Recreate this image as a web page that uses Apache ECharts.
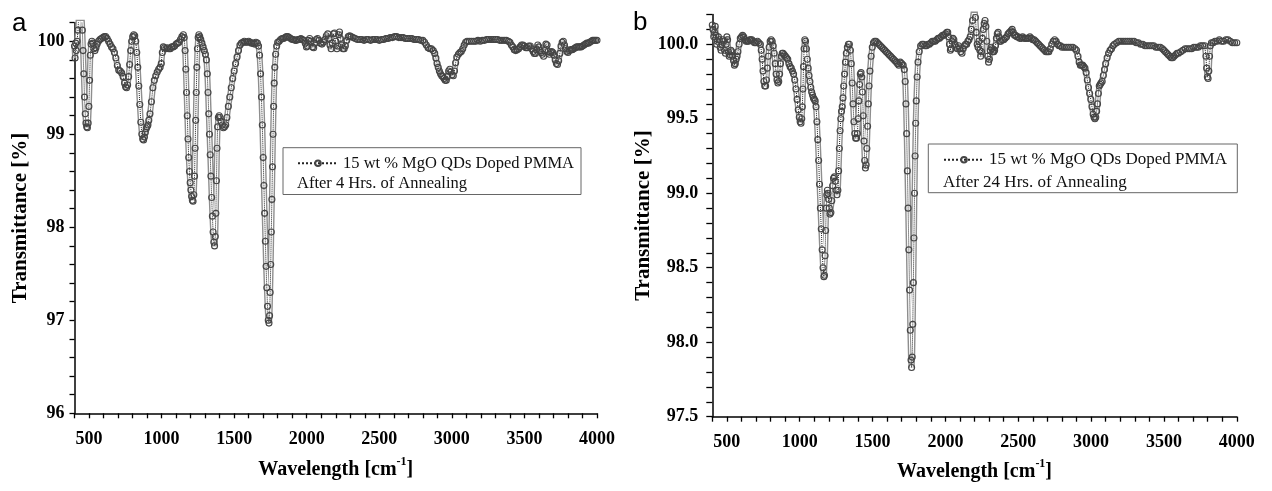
<!DOCTYPE html>
<html><head><meta charset="utf-8">
<script src="https://cdn.jsdelivr.net/npm/echarts@6/dist/echarts.min.js"></script>
<style>html,body{margin:0;padding:0;background:#fff}#c{width:1272px;height:491px}</style>
</head><body><div id="c"></div>
<script>
const seriesName = '15 wt % MgO QDs Doped PMMA';
const noteA = 'After 4 Hrs. of Annealing';
const noteB = 'After 24 Hrs. of Annealing';
const panelLabels = ['a', 'b'];
const xLabelValues = [500, 1000, 1500, 2000, 2500, 3000, 3500, 4000];
const yLabelsA = [96, 97, 98, 99, 100];
const yLabelsB = [97.5, 98.0, 98.5, 99.0, 99.5, 100.0];

// Panel a: [wavenumber, transmittance]
const spectrumA = [
[400,99.95],[404,99.82],[408,99.98],[412,99.90],[418,100.00],[424,100.12],[430,100.28],[436,100.35],[442,100.38],[448,100.30],
[454,100.12],[459,99.90],[464,99.65],[469,99.40],[474,99.22],[479,99.12],[484,99.08],[489,99.07],[494,99.12],[499,99.30],
[504,99.58],[509,99.85],[514,99.97],[520,100.00],[527,99.98],[534,99.92],[541,99.90],[548,99.93],[556,99.97],[565,100.00],
[575,100.02],[585,100.03],[595,100.04],[605,100.05],[615,100.05],[625,100.03],[635,100.00],[645,99.97],[655,99.94],[665,99.92],
[675,99.88],[685,99.82],[695,99.74],[705,99.69],[715,99.68],[725,99.66],[735,99.62],[745,99.55],[752,99.51],[759,99.50],
[766,99.53],[773,99.62],[780,99.75],[787,99.90],[794,100.00],[801,100.05],[808,100.07],[815,100.06],[822,100.00],[829,99.88],
[836,99.72],[843,99.52],[850,99.32],[857,99.13],[864,99.00],[870,98.95],[876,98.94],[882,98.97],[888,99.02],[894,99.06],
[900,99.08],[906,99.10],[912,99.15],[920,99.22],[930,99.35],[940,99.50],[950,99.58],[960,99.63],[970,99.67],[980,99.70],
[990,99.72],[998,99.76],[1005,99.88],[1012,99.94],[1020,99.93],[1030,99.92],[1040,99.93],[1050,99.92],[1060,99.92],[1070,99.94],
[1080,99.94],[1090,99.95],[1100,99.97],[1110,99.98],[1120,99.99],[1130,100.02],[1140,100.05],[1150,100.07],[1156,100.04],[1162,99.90],
[1167,99.70],[1172,99.45],[1177,99.20],[1182,98.95],[1187,98.75],[1192,98.60],[1197,98.48],[1202,98.40],[1207,98.33],[1212,98.29],
[1217,98.28],[1222,98.35],[1227,98.55],[1231,98.85],[1235,99.15],[1239,99.45],[1243,99.72],[1247,99.92],[1252,100.04],[1257,100.07],
[1263,100.05],[1270,100.02],[1278,99.98],[1286,99.94],[1294,99.90],[1302,99.86],[1309,99.80],[1315,99.65],[1320,99.45],[1325,99.22],
[1330,99.00],[1335,98.78],[1340,98.55],[1345,98.32],[1350,98.12],[1355,97.95],[1360,97.84],[1365,97.80],[1370,97.90],[1374,98.15],
[1378,98.50],[1382,98.85],[1386,99.08],[1391,99.18],[1397,99.20],[1403,99.18],[1410,99.14],[1418,99.10],[1426,99.07],[1434,99.08],
[1442,99.10],[1450,99.18],[1460,99.30],[1470,99.40],[1480,99.50],[1490,99.60],[1500,99.68],[1510,99.76],[1520,99.83],[1530,99.90],
[1540,99.96],[1550,99.98],[1560,99.99],[1570,100.00],[1580,99.99],[1590,99.99],[1600,100.00],[1610,99.99],[1620,99.98],[1630,99.98],
[1640,99.97],[1650,99.99],[1660,99.98],[1668,99.95],[1675,99.85],[1682,99.65],[1688,99.40],[1694,99.10],[1700,98.75],[1705,98.45],
[1710,98.15],[1715,97.85],[1720,97.58],[1725,97.35],[1730,97.15],[1735,97.00],[1740,96.97],[1744,97.05],[1748,97.30],[1752,97.60],
[1756,97.95],[1760,98.30],[1764,98.65],[1768,99.00],[1772,99.30],[1776,99.55],[1780,99.72],[1786,99.86],[1793,99.95],[1800,99.99],
[1810,100.00],[1820,100.02],[1830,100.03],[1840,100.03],[1850,100.04],[1860,100.05],[1870,100.05],[1880,100.04],[1890,100.03],[1900,100.02],
[1910,100.02],[1920,100.01],[1930,100.01],[1940,100.02],[1950,100.02],[1960,100.03],[1970,100.02],[1980,100.01],[1990,99.98],[1998,99.94],
[2005,99.95],[2012,100.01],[2020,100.03],[2030,100.00],[2040,99.94],[2048,99.93],[2056,99.98],[2065,100.02],[2075,100.03],[2085,100.01],
[2095,99.98],[2105,99.97],[2115,99.99],[2125,100.02],[2135,100.06],[2145,100.08],[2153,100.03],[2160,99.96],[2168,99.92],[2176,99.98],
[2184,100.08],[2192,100.09],[2200,100.00],[2208,99.92],[2214,99.95],[2220,100.07],[2226,100.10],[2232,100.03],[2240,99.96],[2250,99.92],
[2258,99.92],[2266,99.95],[2276,100.01],[2286,100.05],[2296,100.06],[2306,100.05],[2320,100.04],[2335,100.03],[2350,100.02],[2365,100.02],
[2380,100.02],[2395,100.01],[2410,100.02],[2425,100.02],[2440,100.01],[2455,100.02],[2470,100.02],[2485,100.02],[2500,100.01],[2515,100.02],
[2530,100.02],[2545,100.03],[2560,100.03],[2575,100.04],[2590,100.04],[2605,100.05],[2620,100.05],[2635,100.04],[2650,100.04],[2665,100.04],
[2680,100.03],[2695,100.03],[2710,100.03],[2725,100.03],[2740,100.02],[2755,100.02],[2770,100.02],[2785,100.01],[2800,100.01],[2812,99.99],
[2824,99.96],[2836,99.93],[2848,99.92],[2860,99.92],[2872,99.90],[2882,99.87],[2890,99.82],[2898,99.76],[2906,99.72],[2914,99.68],
[2922,99.65],[2930,99.63],[2938,99.62],[2946,99.60],[2954,99.58],[2962,99.58],[2970,99.62],[2978,99.68],[2986,99.70],[2994,99.67],
[3002,99.64],[3010,99.63],[3018,99.68],[3026,99.77],[3034,99.83],[3045,99.86],[3055,99.88],[3065,99.89],[3075,99.92],[3085,99.96],
[3095,99.99],[3105,100.00],[3120,100.00],[3135,100.00],[3150,100.00],[3165,100.00],[3180,100.01],[3195,100.00],[3210,100.01],[3225,100.01],
[3240,100.02],[3255,100.02],[3270,100.02],[3285,100.02],[3300,100.02],[3315,100.02],[3330,100.01],[3345,100.01],[3360,100.01],[3375,100.01],
[3390,100.00],[3400,99.99],[3410,99.96],[3420,99.94],[3430,99.91],[3440,99.90],[3450,99.91],[3460,99.92],[3470,99.94],[3480,99.96],
[3490,99.96],[3500,99.95],[3510,99.93],[3520,99.93],[3530,99.95],[3540,99.95],[3550,99.92],[3560,99.89],[3568,99.87],[3576,99.87],
[3584,99.91],[3592,99.96],[3600,99.94],[3608,99.90],[3616,99.88],[3624,99.86],[3632,99.84],[3640,99.90],[3648,99.97],[3656,99.96],
[3664,99.89],[3672,99.86],[3680,99.88],[3688,99.89],[3696,99.88],[3704,99.85],[3712,99.80],[3720,99.76],[3728,99.75],[3736,99.79],
[3744,99.87],[3752,99.95],[3760,99.99],[3768,100.00],[3776,99.96],[3784,99.92],[3792,99.89],[3800,99.88],[3810,99.90],[3820,99.91],
[3830,99.91],[3840,99.92],[3850,99.93],[3860,99.94],[3870,99.94],[3880,99.94],[3890,99.94],[3900,99.95],[3910,99.96],[3920,99.97],
[3930,99.98],[3940,99.98],[3950,99.99],[3960,100.00],[3970,100.01],[3980,100.01],[3990,100.01],[4000,100.01]
];

// Panel b: [wavenumber, transmittance]
const spectrumB = [
[400,100.13],[405,100.10],[410,100.05],[415,100.08],[420,100.12],[425,100.06],[430,100.00],[436,100.02],[442,100.05],[448,100.03],
[454,99.98],[460,99.96],[466,100.00],[472,100.03],[478,100.02],[484,99.96],[490,99.94],[495,100.00],[500,100.05],[505,100.03],
[510,99.95],[516,99.92],[522,99.93],[528,99.96],[534,99.95],[540,99.92],[546,99.89],[552,99.86],[558,99.87],[564,99.90],
[570,99.92],[576,99.95],[584,100.00],[592,100.04],[600,100.05],[608,100.06],[616,100.05],[624,100.03],[632,100.02],[640,100.02],
[648,100.02],[656,100.03],[664,100.03],[672,100.03],[680,100.02],[690,100.01],[700,100.01],[710,100.02],[720,100.01],[730,100.00],
[736,99.96],[742,99.90],[748,99.82],[754,99.75],[760,99.72],[766,99.72],[772,99.76],[778,99.84],[784,99.92],[790,99.98],
[797,100.02],[804,100.03],[811,100.02],[818,99.99],[825,99.94],[832,99.87],[838,99.80],[844,99.76],[850,99.74],[856,99.75],
[862,99.80],[868,99.87],[874,99.92],[880,99.94],[886,99.94],[894,99.93],[902,99.92],[910,99.91],[918,99.90],[926,99.87],
[934,99.85],[942,99.84],[950,99.82],[958,99.80],[966,99.76],[974,99.70],[982,99.63],[990,99.56],[997,99.51],[1003,99.48],
[1009,99.47],[1014,99.50],[1018,99.58],[1022,99.70],[1026,99.85],[1030,99.97],[1035,100.03],[1040,100.02],[1046,99.97],[1052,99.90],
[1058,99.84],[1064,99.79],[1070,99.75],[1076,99.71],[1082,99.68],[1088,99.66],[1094,99.64],[1100,99.63],[1106,99.62],[1112,99.58],
[1118,99.48],[1124,99.36],[1130,99.22],[1136,99.06],[1142,98.90],[1148,98.76],[1154,98.62],[1160,98.50],[1166,98.44],[1170,98.45],
[1174,98.58],[1178,98.75],[1182,98.90],[1186,98.99],[1190,99.02],[1194,99.00],[1198,98.96],[1203,98.90],[1208,98.86],[1214,98.87],
[1220,98.95],[1226,99.05],[1232,99.10],[1238,99.11],[1244,99.08],[1250,99.02],[1256,98.99],[1262,99.02],[1267,99.15],[1272,99.30],
[1277,99.42],[1282,99.50],[1287,99.55],[1292,99.58],[1297,99.64],[1302,99.72],[1308,99.80],[1314,99.88],[1320,99.94],[1327,99.98],
[1334,100.00],[1341,100.00],[1348,99.96],[1354,99.87],[1360,99.74],[1366,99.60],[1372,99.48],[1378,99.40],[1384,99.37],[1390,99.37],
[1396,99.40],[1401,99.50],[1406,99.62],[1411,99.73],[1416,99.80],[1421,99.81],[1426,99.78],[1431,99.68],[1436,99.52],[1441,99.35],
[1446,99.22],[1451,99.17],[1456,99.19],[1461,99.30],[1466,99.45],[1471,99.60],[1476,99.72],[1482,99.82],[1490,99.92],[1498,99.98],
[1506,100.01],[1514,100.02],[1524,100.02],[1534,100.01],[1544,100.00],[1554,99.99],[1564,99.98],[1574,99.97],[1584,99.96],[1594,99.95],
[1604,99.94],[1614,99.93],[1624,99.92],[1634,99.91],[1644,99.90],[1654,99.89],[1664,99.88],[1672,99.87],[1680,99.86],[1690,99.88],
[1700,99.87],[1710,99.86],[1718,99.83],[1724,99.75],[1729,99.60],[1734,99.40],[1739,99.15],[1744,98.90],[1749,98.62],[1754,98.35],
[1759,98.08],[1764,97.88],[1768,97.83],[1772,97.90],[1776,98.12],[1780,98.40],[1784,98.70],[1788,99.00],[1792,99.25],[1796,99.47],
[1800,99.62],[1806,99.78],[1812,99.88],[1820,99.95],[1830,99.99],[1840,100.00],[1850,100.00],[1860,99.99],[1870,99.99],[1880,100.00],
[1890,100.00],[1900,100.01],[1910,100.02],[1920,100.02],[1930,100.02],[1940,100.03],[1950,100.04],[1960,100.04],[1970,100.05],[1980,100.06],
[1990,100.06],[2000,100.07],[2010,100.08],[2016,100.08],[2022,100.05],[2028,100.00],[2034,99.96],[2040,99.97],[2046,100.02],[2052,100.04],
[2058,100.03],[2066,100.00],[2074,99.98],[2082,99.97],[2090,99.99],[2098,99.97],[2106,99.95],[2114,99.94],[2122,99.97],[2130,99.99],
[2138,100.00],[2146,100.00],[2154,100.02],[2162,100.03],[2170,100.05],[2178,100.10],[2186,100.16],[2194,100.22],[2200,100.24],[2206,100.18],
[2212,100.08],[2218,100.00],[2224,99.98],[2230,100.02],[2236,99.96],[2242,99.92],[2248,99.95],[2254,100.04],[2260,100.10],[2266,100.14],
[2272,100.16],[2278,100.12],[2284,100.02],[2290,99.92],[2296,99.88],[2302,99.90],[2308,99.96],[2314,99.98],[2320,99.97],[2326,99.95],
[2332,99.95],[2338,99.96],[2344,99.99],[2350,100.04],[2356,100.07],[2362,100.08],[2368,100.05],[2374,100.02],[2380,100.02],[2390,100.03],
[2400,100.03],[2410,100.04],[2420,100.05],[2430,100.07],[2440,100.08],[2450,100.09],[2458,100.10],[2466,100.08],[2474,100.06],[2482,100.06],
[2490,100.05],[2500,100.05],[2510,100.04],[2520,100.04],[2530,100.05],[2540,100.04],[2550,100.04],[2560,100.04],[2570,100.04],[2580,100.05],
[2590,100.04],[2600,100.03],[2610,100.03],[2620,100.02],[2630,100.01],[2640,100.00],[2650,99.99],[2660,99.98],[2670,99.97],[2680,99.96],
[2690,99.95],[2700,99.95],[2710,99.95],[2720,99.97],[2730,100.00],[2740,100.02],[2750,100.03],[2760,100.02],[2770,100.00],[2780,99.99],
[2790,99.99],[2800,99.98],[2815,99.98],[2830,99.98],[2845,99.98],[2860,99.98],[2875,99.98],[2890,99.97],[2900,99.96],[2910,99.92],
[2918,99.88],[2926,99.86],[2934,99.86],[2942,99.86],[2950,99.85],[2958,99.84],[2966,99.81],[2974,99.76],[2982,99.71],[2990,99.67],
[2998,99.63],[3006,99.58],[3014,99.53],[3020,99.51],[3026,99.50],[3032,99.51],[3038,99.55],[3044,99.60],[3050,99.67],[3056,99.72],
[3062,99.73],[3068,99.74],[3076,99.75],[3084,99.79],[3092,99.83],[3100,99.87],[3110,99.91],[3120,99.94],[3130,99.96],[3140,99.97],
[3150,99.99],[3160,100.00],[3175,100.01],[3190,100.02],[3205,100.02],[3220,100.02],[3235,100.02],[3250,100.02],[3265,100.02],[3280,100.02],
[3295,100.02],[3310,100.01],[3325,100.01],[3340,100.00],[3355,100.00],[3370,99.99],[3385,99.99],[3400,99.99],[3415,99.99],[3430,99.99],
[3445,99.98],[3460,99.98],[3475,99.98],[3490,99.97],[3500,99.96],[3510,99.95],[3520,99.94],[3530,99.93],[3540,99.92],[3550,99.91],
[3560,99.91],[3570,99.92],[3580,99.93],[3590,99.94],[3600,99.94],[3615,99.95],[3630,99.96],[3645,99.97],[3660,99.97],[3675,99.97],
[3690,99.97],[3705,99.98],[3720,99.98],[3735,99.98],[3750,99.99],[3765,99.99],[3780,99.99],[3788,99.92],[3793,99.84],[3798,99.78],
[3803,99.77],[3808,99.82],[3813,99.92],[3818,99.99],[3826,100.01],[3838,100.01],[3850,100.02],[3865,100.02],[3880,100.03],[3895,100.02],
[3910,100.02],[3925,100.03],[3940,100.03],[3955,100.02],[3970,100.01],[3985,100.01],[4000,100.01]
];

const serif = 'Liberation Serif';
function near(list, v, eps) { return list.find(t => Math.abs(t - v) < eps); }

function makeX(i, gap) {
  return {
    type: 'value', gridIndex: i, min: 400, max: 4000, interval: 100,
    name: 'Wavelength [cm{sup|-1}]', nameLocation: 'middle', nameGap: gap,
    nameTextStyle: { fontFamily: serif, fontWeight: 'bold', fontSize: 20, lineHeight: 28, color: '#000',
      rich: { sup: { fontFamily: serif, fontWeight: 'bold', fontSize: 12, lineHeight: 12, color: '#000', verticalAlign: 'top' } } },
    axisLine: { show: true, lineStyle: { color: '#000', width: 1.5 } },
    axisTick: { show: true, length: 5, lineStyle: { color: '#000', width: 1.3 } },
    axisLabel: { margin: 17, fontFamily: serif, fontWeight: 'bold', fontSize: 18, color: '#000',
      formatter: v => { const t = near(xLabelValues, v, 1e-6); return t === undefined ? '' : String(t); } },
    splitLine: { show: false }
  };
}
function makeY(i, min, step, labels, digits, gap, margin, tickLen) {
  return {
    type: 'value', gridIndex: i, min: min, max: 100.2, interval: step,
    name: 'Transmittance [%]', nameLocation: 'middle', nameRotate: 90, nameGap: gap,
    nameTextStyle: { fontFamily: serif, fontWeight: 'bold', fontSize: 21, color: '#000' },
    axisLine: { show: true, lineStyle: { color: '#000', width: 1.5 } },
    axisTick: { show: true, length: tickLen, lineStyle: { color: '#000', width: 1.3 } },
    axisLabel: { margin: margin, fontFamily: serif, fontWeight: 'bold', fontSize: 18, color: '#000',
      formatter: v => { const t = near(labels, v, 1e-6); return t === undefined ? '' : t.toFixed(digits); } },
    splitLine: { show: false }
  };
}
function spectrumSeries(data, i) {
  return [
    { type: 'line', name: 'tube-outer-' + i, xAxisIndex: i, yAxisIndex: i, data: data, symbol: 'none',
      lineStyle: { color: '#8e8e8e', width: 6 }, silent: true, z: 1 },
    { type: 'line', name: 'tube-inner-' + i, xAxisIndex: i, yAxisIndex: i, data: data, symbol: 'none',
      lineStyle: { color: '#ffffff', width: 3.2 }, silent: true, z: 2 },
    { type: 'line', name: seriesName, xAxisIndex: i, yAxisIndex: i, data: data,
      symbol: 'circle', symbolSize: 6,
      itemStyle: { color: 'rgba(255,255,255,0)', borderColor: '#454545', borderWidth: 1.1 },
      lineStyle: { color: '#222', width: 1, type: 'dotted' }, z: 3 }
  ];
}

const chart = echarts.init(document.getElementById('c'), null, { renderer: 'canvas' });
chart.setOption({
  animation: false,
  backgroundColor: '#fff',
  grid: [
    { left: 74.5, top: 22.7, width: 522.5, height: 390.6 },
    { left: 712.3, top: 14.5, width: 524.5, height: 402.2 }
  ],
  xAxis: [makeX(0, 43), makeX(1, 41)],
  yAxis: [makeY(0, 96, 0.2, yLabelsA, 0, 43, 10, 5), makeY(1, 97.5, 0.1, yLabelsB, 1, 57, 14, 6)],
  legend: [
    { data: [seriesName], left: 297, top: 154.7, padding: 0, itemWidth: 40, itemHeight: 7, selectedMode: false,
      textStyle: { fontFamily: serif, fontSize: 16.5, color: '#111' } },
    { data: [seriesName], left: 943, top: 151.3, padding: 0, itemWidth: 40, itemHeight: 7, selectedMode: false,
      textStyle: { fontFamily: serif, fontSize: 17, color: '#111' } }
  ],
  series: [].concat(spectrumSeries(spectrumA, 0), spectrumSeries(spectrumB, 1)),
  graphic: [
    { type: 'text', x: 12, y: 24, style: { text: panelLabels[0], font: '26px "Liberation Sans"', fill: '#000', textVerticalAlign: 'middle' } },
    { type: 'text', x: 633, y: 23, style: { text: panelLabels[1], font: '26px "Liberation Sans"', fill: '#000', textVerticalAlign: 'middle' } },
    { type: 'rect', shape: { x: 283, y: 147.7, width: 298, height: 46.8 }, style: { fill: 'none', stroke: '#666', lineWidth: 1 }, z: 10 },
    { type: 'rect', shape: { x: 928.3, y: 144, width: 309, height: 48.7 }, style: { fill: 'none', stroke: '#666', lineWidth: 1 }, z: 10 },
    { type: 'text', x: 297, y: 184, style: { text: noteA, font: '16.5px "Liberation Serif"', fill: '#111', textVerticalAlign: 'middle' }, z: 10 },
    { type: 'text', x: 943, y: 182.5, style: { text: noteB, font: '17px "Liberation Serif"', fill: '#111', textVerticalAlign: 'middle' }, z: 10 }
  ]
});
</script>
</body></html>
